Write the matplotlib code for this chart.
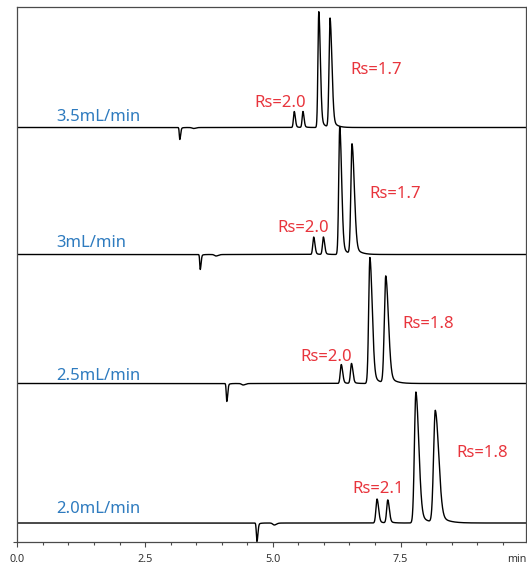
import numpy as np
import matplotlib.pyplot as plt

plt.rcParams['font.family'] = 'Noto Sans'

# flow rates, top to bottom, and where each trace's baseline sits on the stacked axis
flow_labels = ['3.5mL/min', '3mL/min', '2.5mL/min', '2.0mL/min']
offsets = [414, 287, 158, 18.5]

# per trace: retention time (min), height, front sigma, back sigma
# (first two entries are the negative system peaks)
rt_35 = [3.18, 3.45, 5.42, 5.59, 5.90, 6.12]
h_35 = [-12, -1.0, 16, 16, 116, 109]
sl_35 = [0.010, 0.03, 0.016, 0.016, 0.017, 0.020]
sr_35 = [0.016, 0.04, 0.021, 0.021, 0.030, 0.036]

rt_30 = [3.58, 3.89, 5.80, 5.99, 6.31, 6.55]
h_30 = [-15, -1.5, 17.5, 17.5, 128, 110]
sl_30 = [0.010, 0.03, 0.018, 0.018, 0.020, 0.023]
sr_30 = [0.016, 0.04, 0.024, 0.024, 0.036, 0.045]

rt_25 = [4.10, 4.42, 6.34, 6.54, 6.90, 7.21]
h_25 = [-18, -1.5, 19, 20, 126, 107]
sl_25 = [0.011, 0.03, 0.020, 0.020, 0.024, 0.028]
sr_25 = [0.017, 0.04, 0.027, 0.027, 0.045, 0.052]

rt_20 = [4.69, 5.03, 7.04, 7.25, 7.80, 8.18]
h_20 = [-18.5, -2.0, 24, 23, 131, 112]
sl_20 = [0.012, 0.03, 0.022, 0.022, 0.029, 0.034]
sr_20 = [0.018, 0.04, 0.030, 0.030, 0.056, 0.066]

peak_tables = [
    (rt_35, h_35, sl_35, sr_35),
    (rt_30, h_30, sl_30, sr_30),
    (rt_25, h_25, sl_25, sr_25),
    (rt_20, h_20, sl_20, sr_20),
]

# resolution labels: (x, y, text) in data units, left group then right group
rs_x = [[5.15, 7.03], [5.60, 7.39], [6.04, 8.04], [7.06, 9.09]]
rs_y = [[434.2, 467.5], [309.2, 343.2], [180.8, 213.8], [48.8, 84.2]]
rs_text = [['Rs=2.0', 'Rs=1.7'], ['Rs=2.0', 'Rs=1.7'],
           ['Rs=2.0', 'Rs=1.8'], ['Rs=2.1', 'Rs=1.8']]
flow_y = [420.8, 294.5, 161.8, 28.2]

t_end = 9.96
tail_frac = 0.12


def peak(x, t, h, sl, sr):
    d = x - t
    front = np.exp(-0.5 * (d / sl) ** 2)
    dp = np.clip(d, 0, None)
    back = (1 - tail_frac) * np.exp(-0.5 * (dp / sr) ** 2) + tail_frac * np.exp(-dp / (2.2 * sr))
    return h * np.where(d < 0, front, back)


fig = plt.figure(figsize=(5.27, 5.67), dpi=100)
ax = fig.add_axes([17.3 / 527, 25.5 / 567, (526.3 - 17.3) / 527, (541.5 - 6.5) / 567])

x = np.linspace(0, t_end, 6000)
for off, (rt, h, sl, sr) in zip(offsets, peak_tables):
    y = np.full_like(x, off, dtype=float)
    for t_, h_, a_, b_ in zip(rt, h, sl, sr):
        y += peak(x, t_, h_, a_, b_)
    ax.plot(x, y, color='black', linewidth=1.0)

red = '#e8343c'
blue = '#2e7bbf'
for i in range(4):
    ax.text(0.757, flow_y[i], flow_labels[i], color=blue, fontsize=12,
            ha='left', va='baseline')
    for xx, yy, s in zip(rs_x[i], rs_y[i], rs_text[i]):
        ax.text(xx, yy, s, color=red, fontsize=12, ha='center', va='baseline')

ax.set_xlim(0, t_end)
ax.set_ylim(0, 535)
ax.set_xticks([0, 2.5, 5.0, 7.5])
ax.set_xticklabels(['0.0', '2.5', '5.0', '7.5'])
ax.set_xticks(np.arange(0, 10, 0.5), minor=True)
ax.set_yticks([0])
ax.set_yticklabels([])

for sp in ax.spines.values():
    sp.set_color('#4a4a4a')
    sp.set_linewidth(0.9)

ax.tick_params(axis='x', which='major', length=3.8, width=0.8, color='#4a4a4a',
               pad=5.5, labelsize=7.8, labelcolor='#333333')
ax.tick_params(axis='x', which='minor', length=2, width=0.8, color='#4a4a4a')
ax.tick_params(axis='y', length=3, width=0.8, color='#4a4a4a')

fig.text(526.5 / 527, 1 - 560 / 567, 'min', fontsize=7.8, color='#333333',
         ha='right', va='center')

plt.savefig('out.png', dpi=100)
